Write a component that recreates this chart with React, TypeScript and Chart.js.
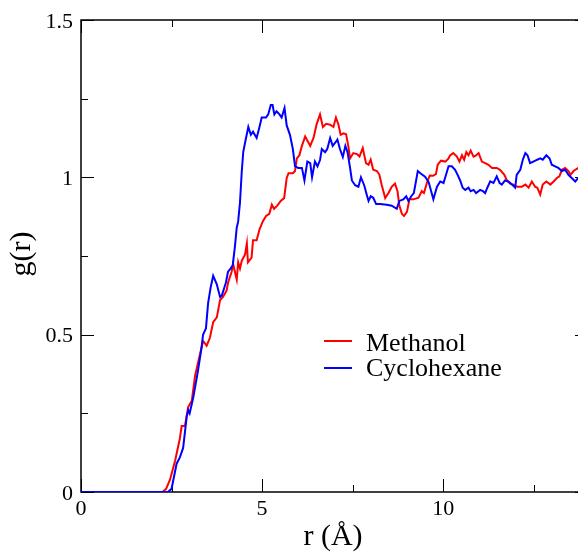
import React, { useEffect, useRef } from "react";
import { Chart, registerables } from "chart.js";

Chart.register(...registerables);

// ---- data (r in Å, g(r)) ----
const methanolR = [
  0, 2.25, 2.35, 2.46, 2.6, 2.73, 2.78, 2.87, 2.96, 3.06, 3.15, 3.23, 3.37, 3.47, 3.56, 3.65, 3.75, 3.84, 3.92,
  4.02, 4.06, 4.16, 4.2, 4.25, 4.3, 4.34, 4.39, 4.44, 4.53, 4.58, 4.61, 4.71, 4.75, 4.85, 4.93, 5.02, 5.11, 5.2,
  5.27, 5.33, 5.42, 5.52, 5.61, 5.68, 5.73, 5.85, 5.91, 5.96, 6.03, 6.1, 6.19, 6.33, 6.42, 6.51, 6.6, 6.68, 6.77,
  6.88, 6.97, 7.04, 7.11, 7.17, 7.25, 7.32, 7.38, 7.43, 7.52, 7.62, 7.69, 7.78, 7.87, 7.94, 8.0, 8.07, 8.17, 8.24,
  8.3, 8.4, 8.49, 8.58, 8.67, 8.74, 8.79, 8.86, 8.92, 9.0, 9.07, 9.18, 9.32, 9.41, 9.47, 9.55, 9.63, 9.72, 9.8,
  9.85, 9.94, 10.06, 10.15, 10.19, 10.28, 10.38, 10.45, 10.52, 10.58, 10.64, 10.7, 10.76, 10.84, 10.91, 10.98,
  11.07, 11.16, 11.25, 11.35, 11.48, 11.57, 11.69, 11.76, 11.85, 11.94, 12.05, 12.17, 12.27, 12.36, 12.45, 12.54,
  12.6, 12.68, 12.75, 12.85, 12.96, 13.05, 13.14, 13.21, 13.28, 13.37, 13.46, 13.52, 13.6, 13.73, 13.85,
];
const methanolG = [
  0, 0, 0.01, 0.04, 0.1, 0.17, 0.21, 0.21, 0.27, 0.29, 0.37, 0.41, 0.48, 0.465, 0.49, 0.54, 0.555, 0.61, 0.62,
  0.64, 0.665, 0.7, 0.725, 0.7, 0.675, 0.73, 0.71, 0.735, 0.755, 0.79, 0.73, 0.745, 0.8, 0.8, 0.835, 0.86, 0.877, 0.884,
  0.913, 0.9, 0.91, 0.926, 0.934, 0.998, 1.013, 1.013, 1.02, 1.06, 1.07, 1.1, 1.13, 1.1, 1.125, 1.17, 1.2, 1.16, 1.17,
  1.167, 1.16, 1.19, 1.167, 1.135, 1.14, 1.137, 1.1, 1.06, 1.077, 1.074, 1.066, 1.093, 1.045, 1.04, 1.056, 1.024, 1.02, 1.008,
  0.977, 0.934, 0.95, 0.97, 0.98, 0.956, 0.91, 0.884, 0.877, 0.89, 0.93, 0.93, 0.935, 0.956, 0.95, 0.982, 1.006, 1.005, 1.01,
  1.04, 1.053, 1.05, 1.06, 1.07, 1.077, 1.066, 1.05, 1.07, 1.056, 1.08, 1.07, 1.085, 1.066, 1.07, 1.077,
  1.05, 1.045, 1.04, 1.03, 1.03, 1.024, 1.008, 0.99, 0.98, 0.977, 0.97, 0.97, 0.977, 0.967, 0.987, 0.97,
  0.967, 0.945, 0.977, 0.987, 0.977, 0.987, 0.998, 1.003, 1.024, 1.03, 1.02, 1.008, 1.02, 1.03, 1.02,
];

const cyclohexaneR = [
  0, 2.4, 2.5, 2.64, 2.73, 2.82, 2.92, 2.96, 3.0, 3.1, 3.23, 3.33, 3.37, 3.45, 3.51, 3.58, 3.65, 3.75, 3.84, 3.89,
  4.0, 4.06, 4.13, 4.19, 4.25, 4.3, 4.34, 4.39, 4.44, 4.48, 4.53, 4.62, 4.69, 4.75, 4.85, 4.92, 4.99, 5.11, 5.17,
  5.24, 5.29, 5.34, 5.4, 5.48, 5.54, 5.62, 5.68, 5.77, 5.85, 5.91, 6.0, 6.1, 6.17, 6.25, 6.33, 6.38, 6.46, 6.53,
  6.6, 6.65, 6.74, 6.8, 6.88, 6.95, 7.02, 7.08, 7.15, 7.23, 7.3, 7.36, 7.43, 7.48, 7.57, 7.66, 7.73, 7.82, 7.89,
  7.94, 8.0, 8.07, 8.15, 8.26, 8.44, 8.58, 8.72, 8.79, 8.9, 8.98, 9.04, 9.12, 9.19, 9.23, 9.3, 9.38, 9.5, 9.6,
  9.73, 9.83, 9.92, 10.01, 10.08, 10.15, 10.24, 10.33, 10.4, 10.47, 10.54, 10.61, 10.7, 10.76, 10.84, 10.91,
  11.02, 11.1, 11.16, 11.22, 11.3, 11.39, 11.48, 11.56, 11.62, 11.71, 11.8, 11.9, 11.99, 12.03, 12.13, 12.2,
  12.27, 12.33, 12.4, 12.49, 12.6, 12.68, 12.75, 12.85, 12.94, 13.0, 13.09, 13.18, 13.28, 13.37, 13.46, 13.55,
  13.65, 13.73, 13.85,
];
const cyclohexaneG = [
  0, 0, 0.01, 0.09, 0.11, 0.14, 0.24, 0.26, 0.25, 0.3, 0.385, 0.46, 0.5, 0.52, 0.6, 0.65, 0.687, 0.66, 0.62, 0.625,
  0.665, 0.7, 0.71, 0.72, 0.78, 0.84, 0.86, 0.92, 1.02, 1.08, 1.11, 1.16, 1.135, 1.145, 1.125, 1.156, 1.19, 1.19, 1.2,
  1.23, 1.23, 1.2, 1.21, 1.2, 1.19, 1.22, 1.165, 1.135, 1.09, 1.035, 1.03, 1.03, 0.99, 1.05, 1.045, 1.0, 1.05, 1.035,
  1.055, 1.09, 1.08, 1.09, 1.125, 1.1, 1.11, 1.12, 1.09, 1.065, 1.1, 1.08, 1.03, 0.99, 0.975, 0.97, 1.0, 0.975, 0.945,
  0.925, 0.94, 0.935, 0.915, 0.915, 0.913, 0.91, 0.9, 0.925, 0.93, 0.94, 0.925, 0.94, 0.95, 0.975, 1.02, 1.012, 1.002, 0.985,
  0.93, 0.97, 0.987, 0.982, 1.008, 1.035, 1.035, 1.024, 1.008, 0.99, 0.967, 0.96, 0.967, 0.956, 0.96, 0.95,
  0.96, 0.956, 0.95, 0.967, 0.987, 0.982, 1.003, 0.982, 0.977, 0.99, 0.987, 0.977, 0.967, 1.008, 1.024, 1.056,
  1.077, 1.07, 1.045, 1.05, 1.056, 1.06, 1.056, 1.07, 1.06, 1.04, 1.035, 1.03, 1.02, 1.024, 1.008, 0.998,
  0.987, 0.998, 1.0,
];

const seriesNames = ["Methanol", "Cyclohexane"];
const seriesColors = ["#ff0000", "#0000ff"];

const xMajorTicks = [0, 5, 10];
const xMinorTicks = [2.5, 7.5, 12.5];
const xTickLabels = ["0", "5", "10"];
const yMajorTicks = [0, 0.5, 1, 1.5];
const yMinorTicks = [0.25, 0.75, 1.25];
const yTickLabels = ["0", "0.5", "1", "1.5"];
const xTitle = "r (Å)";
const yTitle = "g(r)";

const SERIF = '"Liberation Serif", "Times New Roman", serif';

const decorPlugin = {
  id: "decor",
  beforeDatasetsDraw(chart: any) {
    const { ctx, chartArea } = chart;
    const { left, top, right, bottom } = chartArea;
    const xs = chart.scales.x;
    const ys = chart.scales.y;
    ctx.save();
    ctx.strokeStyle = "#000";
    ctx.lineWidth = 1.5;
    ctx.strokeRect(left, top, right - left, bottom - top);
    ctx.lineWidth = 1;
    const vtick = (v: number, len: number) => {
      const px = Math.round(xs.getPixelForValue(v)) + 0.5;
      ctx.beginPath();
      ctx.moveTo(px, bottom);
      ctx.lineTo(px, bottom - len);
      ctx.moveTo(px, top);
      ctx.lineTo(px, top + len);
      ctx.stroke();
    };
    const htick = (v: number, len: number) => {
      const py = Math.round(ys.getPixelForValue(v)) + 0.5;
      ctx.beginPath();
      ctx.moveTo(left, py);
      ctx.lineTo(left + len, py);
      ctx.moveTo(right, py);
      ctx.lineTo(right - len, py);
      ctx.stroke();
    };
    xMajorTicks.forEach((v) => vtick(v, 13));
    xMinorTicks.forEach((v) => vtick(v, 7));
    yMajorTicks.forEach((v) => htick(v, 13));
    yMinorTicks.forEach((v) => htick(v, 7));
    ctx.restore();
  },
  afterDraw(chart: any) {
    const { ctx, chartArea } = chart;
    const { left, bottom } = chartArea;
    const xs = chart.scales.x;
    const ys = chart.scales.y;
    ctx.save();
    ctx.fillStyle = "#000";
    ctx.font = "22px " + SERIF;
    ctx.textBaseline = "alphabetic";
    ctx.textAlign = "right";
    yMajorTicks.forEach((v, i) => {
      ctx.fillText(yTickLabels[i], left - 8, ys.getPixelForValue(v) + 7.7);
    });
    ctx.textAlign = "center";
    xMajorTicks.forEach((v, i) => {
      ctx.fillText(xTickLabels[i], xs.getPixelForValue(v), bottom + 22.5);
    });
    // axis titles
    ctx.font = "30px " + SERIF;
    ctx.fillText(xTitle, 333, 545);
    ctx.save();
    ctx.translate(30, 254);
    ctx.rotate(-Math.PI / 2);
    ctx.fillText(yTitle, 0, 0);
    ctx.restore();
    // legend
    ctx.font = "26px " + SERIF;
    ctx.textAlign = "left";
    const lineY = [341, 368];
    const textY = [350.5, 375.5];
    seriesNames.forEach((name, i) => {
      ctx.strokeStyle = seriesColors[i];
      ctx.lineWidth = 2;
      ctx.beginPath();
      ctx.moveTo(324, lineY[i]);
      ctx.lineTo(352, lineY[i]);
      ctx.stroke();
      ctx.fillStyle = "#000";
      ctx.fillText(name, 366, textY[i]);
    });
    ctx.restore();
  },
};

export default function App() {
  const canvasRef = useRef<HTMLCanvasElement | null>(null);

  useEffect(() => {
    const canvas = canvasRef.current;
    if (!canvas) return;
    const toPts = (xs: number[], ys: number[]) => xs.map((x, i) => ({ x, y: ys[i] }));
    const chart = new Chart(canvas, {
      type: "scatter",
      data: {
        datasets: [
          {
            label: seriesNames[1],
            data: toPts(cyclohexaneR, cyclohexaneG),
            borderColor: seriesColors[1],
            backgroundColor: seriesColors[1],
            showLine: true,
            borderWidth: 2,
            pointRadius: 0,
            tension: 0,
          },
          {
            label: seriesNames[0],
            data: toPts(methanolR, methanolG),
            borderColor: seriesColors[0],
            backgroundColor: seriesColors[0],
            showLine: true,
            borderWidth: 2,
            pointRadius: 0,
            tension: 0,
          },
        ],
      },
      options: {
        animation: false,
        responsive: false,
        maintainAspectRatio: false,
        layout: { padding: { top: 20, right: 12, left: 0, bottom: 0 } },
        plugins: { legend: { display: false }, tooltip: { enabled: false } },
        scales: {
          x: {
            type: "linear",
            min: 0,
            max: 14,
            grid: { display: false, drawTicks: false },
            border: { display: false },
            ticks: { display: false },
            afterFit: (s: any) => {
              s.height = 60;
            },
          },
          y: {
            type: "linear",
            min: 0,
            max: 1.5,
            grid: { display: false, drawTicks: false },
            border: { display: false },
            ticks: { display: false },
            afterFit: (s: any) => {
              s.width = 81;
            },
          },
        },
      },
      plugins: [decorPlugin],
    } as any);
    return () => chart.destroy();
  }, []);

  return (
    <div
      style={{
        position: "fixed",
        left: 0,
        top: 0,
        width: 578,
        height: 552,
        overflow: "hidden",
        background: "#fff",
      }}
    >
      <canvas ref={canvasRef} width={600} height={552} style={{ display: "block", width: 600, height: 552 }} />
    </div>
  );
}
